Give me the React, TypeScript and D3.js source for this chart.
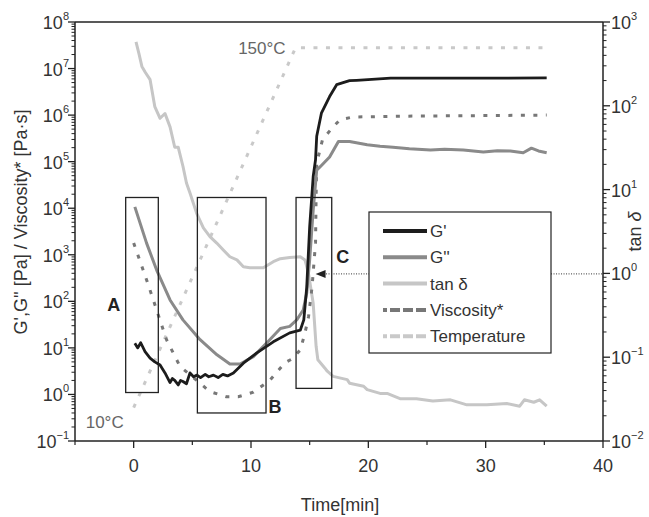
import React from 'react';
import * as d3 from 'd3';

const W = 649;
const H = 517;
const PL = 75, PR = 603, PT = 22, PB = 441;

// ---- data ----
const gpTime = [0.1, 0.35, 0.6, 0.97, 1.4, 1.8, 2.25, 2.67, 3.1, 3.3, 3.5, 3.8, 4.0, 4.2, 4.5, 4.8, 5.1, 5.4, 5.7, 6.1, 6.4, 6.8, 7.2, 7.6, 8.0, 8.5, 9.35, 10.5, 11.9, 13.3, 14.2, 14.5, 14.75, 15.0, 15.3, 15.5, 15.6, 16.0, 16.7, 17.3, 18.4, 19.0, 21.9, 27.5, 35.2];
const gpVal = [12.6, 10, 12.9, 8.3, 6.0, 5.0, 4.3, 2.9, 1.8, 2.2, 2.0, 1.6, 2.0, 1.9, 1.7, 2.9, 2.4, 2.6, 2.3, 2.7, 2.4, 2.6, 2.3, 2.7, 2.5, 2.9, 4.7, 7.8, 13.5, 21, 24, 40, 200, 4000, 48000, 110000, 350000, 1.1e6, 2.5e6, 4.5e6, 5.5e6, 5.6e6, 6.2e6, 6.2e6, 6.3e6];

const gppTime = [0.1, 1.1, 1.96, 3.1, 4.2, 5.66, 7.1, 8.2, 9.07, 10.2, 11.6, 12.5, 13.3, 13.9, 14.45, 14.75, 15.0, 15.3, 15.6, 15.9, 16.7, 17.45, 18.4, 19.9, 21.0, 22.1, 23.5, 25.3, 26.5, 28.1, 29.8, 31.0, 32.1, 33.2, 33.9, 34.5, 35.2];
const gppVal = [10700, 1780, 470, 107, 40, 15, 7.1, 4.5, 4.5, 6.5, 15, 26, 29, 40, 65, 150, 780, 9100, 66000, 78000, 126000, 270000, 270000, 230000, 215000, 204000, 190000, 178000, 185000, 178000, 162000, 172000, 170000, 155000, 195000, 170000, 155000];

const tanTime = [0.2, 0.45, 0.7, 1.0, 1.4, 1.8, 2.25, 2.67, 3.1, 3.5, 3.8, 4.2, 4.5, 4.8, 5.37, 5.94, 6.5, 7.08, 7.64, 8.2, 8.8, 9.35, 9.9, 11.05, 11.9, 12.5, 13.3, 14.2, 14.6, 14.9, 15.3, 15.55, 15.7, 16.3, 16.5, 17.0, 18.2, 18.4, 19.6, 19.9, 21.0, 21.6, 22.7, 24.1, 25.5, 27.0, 28.4, 30.1, 31.8, 32.9, 33.3, 34.1, 34.6, 35.2];
const tanVal = [580, 420, 295, 250, 205, 98, 71, 81, 56, 32, 32, 19, 12, 9.1, 5.2, 3.5, 2.75, 2.3, 1.9, 1.58, 1.45, 1.2, 1.17, 1.17, 1.38, 1.5, 1.55, 1.58, 1.45, 1.0, 0.44, 0.135, 0.093, 0.074, 0.068, 0.059, 0.054, 0.049, 0.045, 0.041, 0.037, 0.037, 0.032, 0.032, 0.030, 0.031, 0.027, 0.027, 0.028, 0.026, 0.031, 0.029, 0.031, 0.026];

const viscTime = [0, 1.25, 1.96, 2.8, 3.95, 5.37, 6.5, 7.9, 8.9, 10.2, 11.6, 12.9, 13.5, 14.2, 14.6, 14.9, 15.2, 15.5, 15.55, 15.6, 16.1, 17.0, 17.6, 18.7, 23.3, 35.2];
const viscVal = [1800, 224, 65, 15, 4, 2.0, 1.15, 0.89, 0.89, 1.12, 2.0, 4.8, 5.8, 9, 21, 46, 200, 1800, 20000, 93000, 300000, 560000, 800000, 910000, 950000, 1000000];

const tempTime = [0, 13.8, 35.2];
const tempVal = [10, 150, 150];

const xTickVals = [0, 10, 20, 30, 40];
const xMinorVals = [-5, 5, 15, 25, 35];
const leftExps = [-1, 0, 1, 2, 3, 4, 5, 6, 7, 8];
const rightExps = [-2, -1, 0, 1, 2, 3];

// boxes: [t0, t1, vLow, vHigh]
const boxNames = ['A', 'B', 'C'];
const boxT0 = [-0.68, 5.43, 13.84];
const boxT1 = [2.1, 11.28, 16.88];
const boxLow = [1.1, 0.4, 1.35];
const boxHigh = [17000, 17000, 17000];

const legendNames = ["G'", "G''", 'tan δ', 'Viscosity*', 'Temperature'];
const legendColors = ['#1c1c1c', '#8a8a8a', '#c6c6c6', '#777777', '#c9c9c9'];
const legendDash = [null, null, null, '4,8.5', '4,8.5'];

const FONT = "'Liberation Sans', Arial, Helvetica, sans-serif";

function sup(e: number) {
  return e < 0 ? '\u2212' + Math.abs(e) : String(e);
}

export default function App() {
  const x = d3.scaleLinear().domain([-5, 40]).range([PL, PR]);
  const yL = d3.scaleLog().domain([0.1, 1e8]).range([PB, PT]);
  const yR = d3.scaleLog().domain([0.01, 1000]).range([PB, PT]);
  const yT = d3.scaleLinear().domain([-3, 160]).range([PB, PT]);

  const lineL = d3.line<[number, number]>().x(d => x(d[0])).y(d => yL(d[1]));
  const lineR = d3.line<[number, number]>().x(d => x(d[0])).y(d => yR(d[1]));
  const lineT = d3.line<[number, number]>().x(d => x(d[0])).y(d => yT(d[1]));

  const zip = (a: number[], b: number[]) => a.map((v, i) => [v, b[i]] as [number, number]);

  const leftMinor: number[] = [];
  leftExps.forEach(e => { if (e < 8) for (let k = 2; k <= 9; k++) leftMinor.push(k * Math.pow(10, e)); });
  const rightMinor: number[] = [];
  rightExps.forEach(e => { if (e < 3) for (let k = 2; k <= 9; k++) rightMinor.push(k * Math.pow(10, e)); });

  const axisColor = '#222';
  const txt = '#333';

  const legX0 = 369, legY0 = 212, legX1 = 551, legY1 = 353;
  const legRowY = (i: number) => 231 + i * 26.3;

  return (
    <svg width={W} height={H} style={{ position: 'absolute', left: 0, top: 0, background: '#fff' }} fontFamily={FONT}>
      {/* curves */}
      <path d={lineT(zip(tempTime, tempVal)) || ''} fill="none" stroke={legendColors[4]} strokeWidth={3} strokeDasharray="4,8.5" />
      <path d={lineR(zip(tanTime, tanVal)) || ''} fill="none" stroke={legendColors[2]} strokeWidth={3} strokeLinejoin="round" />
      <path d={lineL(zip(viscTime, viscVal)) || ''} fill="none" stroke={legendColors[3]} strokeWidth={3} strokeDasharray="4,8.5" />
      <path d={lineL(zip(gppTime, gppVal)) || ''} fill="none" stroke={legendColors[1]} strokeWidth={3} strokeLinejoin="round" />
      <path d={lineL(zip(gpTime, gpVal)) || ''} fill="none" stroke={legendColors[0]} strokeWidth={2.8} strokeLinejoin="round" />

      {/* boxes */}
      {boxNames.map((n, i) => (
        <rect key={n} x={x(boxT0[i])} y={yL(boxHigh[i])} width={x(boxT1[i]) - x(boxT0[i])} height={yL(boxLow[i]) - yL(boxHigh[i])} fill="none" stroke="#222" strokeWidth={1.3} />
      ))}
      <text x={x(boxT0[0]) - 12} y={yL(boxLow[0]) - 82} textAnchor="middle" fontSize={18} fontWeight="bold" fill="#222">A</text>
      <text x={x(boxT1[1]) + 9} y={yL(boxLow[1]) - 0} textAnchor="middle" fontSize={18} fontWeight="bold" fill="#222">B</text>
      <text x={x(boxT1[2]) + 11} y={yR(1) - 10} textAnchor="middle" fontSize={18} fontWeight="bold" fill="#222">C</text>

      {/* tan delta = 1 reference line with arrow */}
      <line x1={x(15.5) + 8} x2={PR} y1={yR(1) + 0.5} y2={yR(1) + 0.5} stroke="#333" strokeWidth={1} strokeDasharray="1,1.5" />
      <path d={`M${x(15.5)},${yR(1) + 0.5} L${x(15.5) + 10},${yR(1) - 3.5} L${x(15.5) + 10},${yR(1) + 4.5} Z`} fill="#222" />

      {/* text annotations */}
      <text x={x(13.8) - 10} y={yT(150) + 6} textAnchor="end" fontSize={17} fill="#666">150°C</text>
      <text x={x(0) - 10} y={yT(10) + 20} textAnchor="end" fontSize={17} fill="#666">10°C</text>

      {/* legend */}
      <rect x={legX0} y={legY0} width={legX1 - legX0} height={legY1 - legY0} fill="#fff" stroke="#222" strokeWidth={1.2} />
      {legendNames.map((n, i) => (
        <g key={n}>
          <line x1={383} x2={427} y1={legRowY(i)} y2={legRowY(i)} stroke={legendColors[i]} strokeWidth={4}
            strokeDasharray={legendDash[i] ? '4,3,10,3,10,3,10' : undefined} />
          <text x={430} y={legRowY(i) + 6} fontSize={17} fill={txt}>{n}</text>
        </g>
      ))}

      {/* frame / axes */}
      <line x1={PL} x2={PR} y1={PT} y2={PT} stroke={axisColor} strokeWidth={1.5} />
      <line x1={PL} x2={PR} y1={PB} y2={PB} stroke={axisColor} strokeWidth={1.5} />
      <line x1={PL} x2={PL} y1={PT} y2={PB} stroke={axisColor} strokeWidth={1.5} />
      <line x1={PR} x2={PR} y1={PT} y2={PB} stroke={axisColor} strokeWidth={1.5} />

      {/* x ticks */}
      {xTickVals.map(v => (
        <g key={'x' + v}>
          <line x1={x(v)} x2={x(v)} y1={PB} y2={PB + 7} stroke={axisColor} strokeWidth={1.3} />
          <text x={x(v)} y={PB + 31} textAnchor="middle" fontSize={18} fill={txt}>{v}</text>
        </g>
      ))}
      {xMinorVals.map(v => (
        <line key={'xm' + v} x1={x(v)} x2={x(v)} y1={PB} y2={PB + 4} stroke={axisColor} strokeWidth={1.2} />
      ))}
      <text x={(PL + PR) / 2 + 1} y={511} textAnchor="middle" fontSize={18} fill={txt}>Time[min]</text>

      {/* left axis */}
      {leftExps.map(e => (
        <g key={'l' + e}>
          <line x1={PL - 7} x2={PL} y1={yL(Math.pow(10, e))} y2={yL(Math.pow(10, e))} stroke={axisColor} strokeWidth={1.3} />
          <text x={PL - 6} y={yL(Math.pow(10, e)) + 7} textAnchor="end" fontSize={18} fill={txt}>
            10<tspan dy={-9} fontSize={11}>{sup(e)}</tspan>
          </text>
        </g>
      ))}
      {leftMinor.map((v, i) => (
        <line key={'lm' + i} x1={PL - 3.5} x2={PL} y1={yL(v)} y2={yL(v)} stroke={axisColor} strokeWidth={1} />
      ))}
      <text transform={`translate(27,222) rotate(-90)`} textAnchor="middle" fontSize={18} fill={txt}>
        G',G'' [Pa] / Viscosity* [Pa·s]
      </text>

      {/* right axis */}
      {rightExps.map(e => (
        <g key={'r' + e}>
          <line x1={PR} x2={PR + 7} y1={yR(Math.pow(10, e))} y2={yR(Math.pow(10, e))} stroke={axisColor} strokeWidth={1.3} />
          <text x={PR + 8} y={yR(Math.pow(10, e)) + 7} textAnchor="start" fontSize={18} fill={txt}>
            10<tspan dy={-9} fontSize={11}>{sup(e)}</tspan>
          </text>
        </g>
      ))}
      {rightMinor.map((v, i) => (
        <line key={'rm' + i} x1={PR} x2={PR + 3.5} y1={yR(v)} y2={yR(v)} stroke={axisColor} strokeWidth={1} />
      ))}
      <text transform={`translate(641,${(PT + PB) / 2}) rotate(-90)`} textAnchor="middle" fontSize={18} fill={txt}>
        tan <tspan fontStyle="italic">δ</tspan>
      </text>
    </svg>
  );
}
